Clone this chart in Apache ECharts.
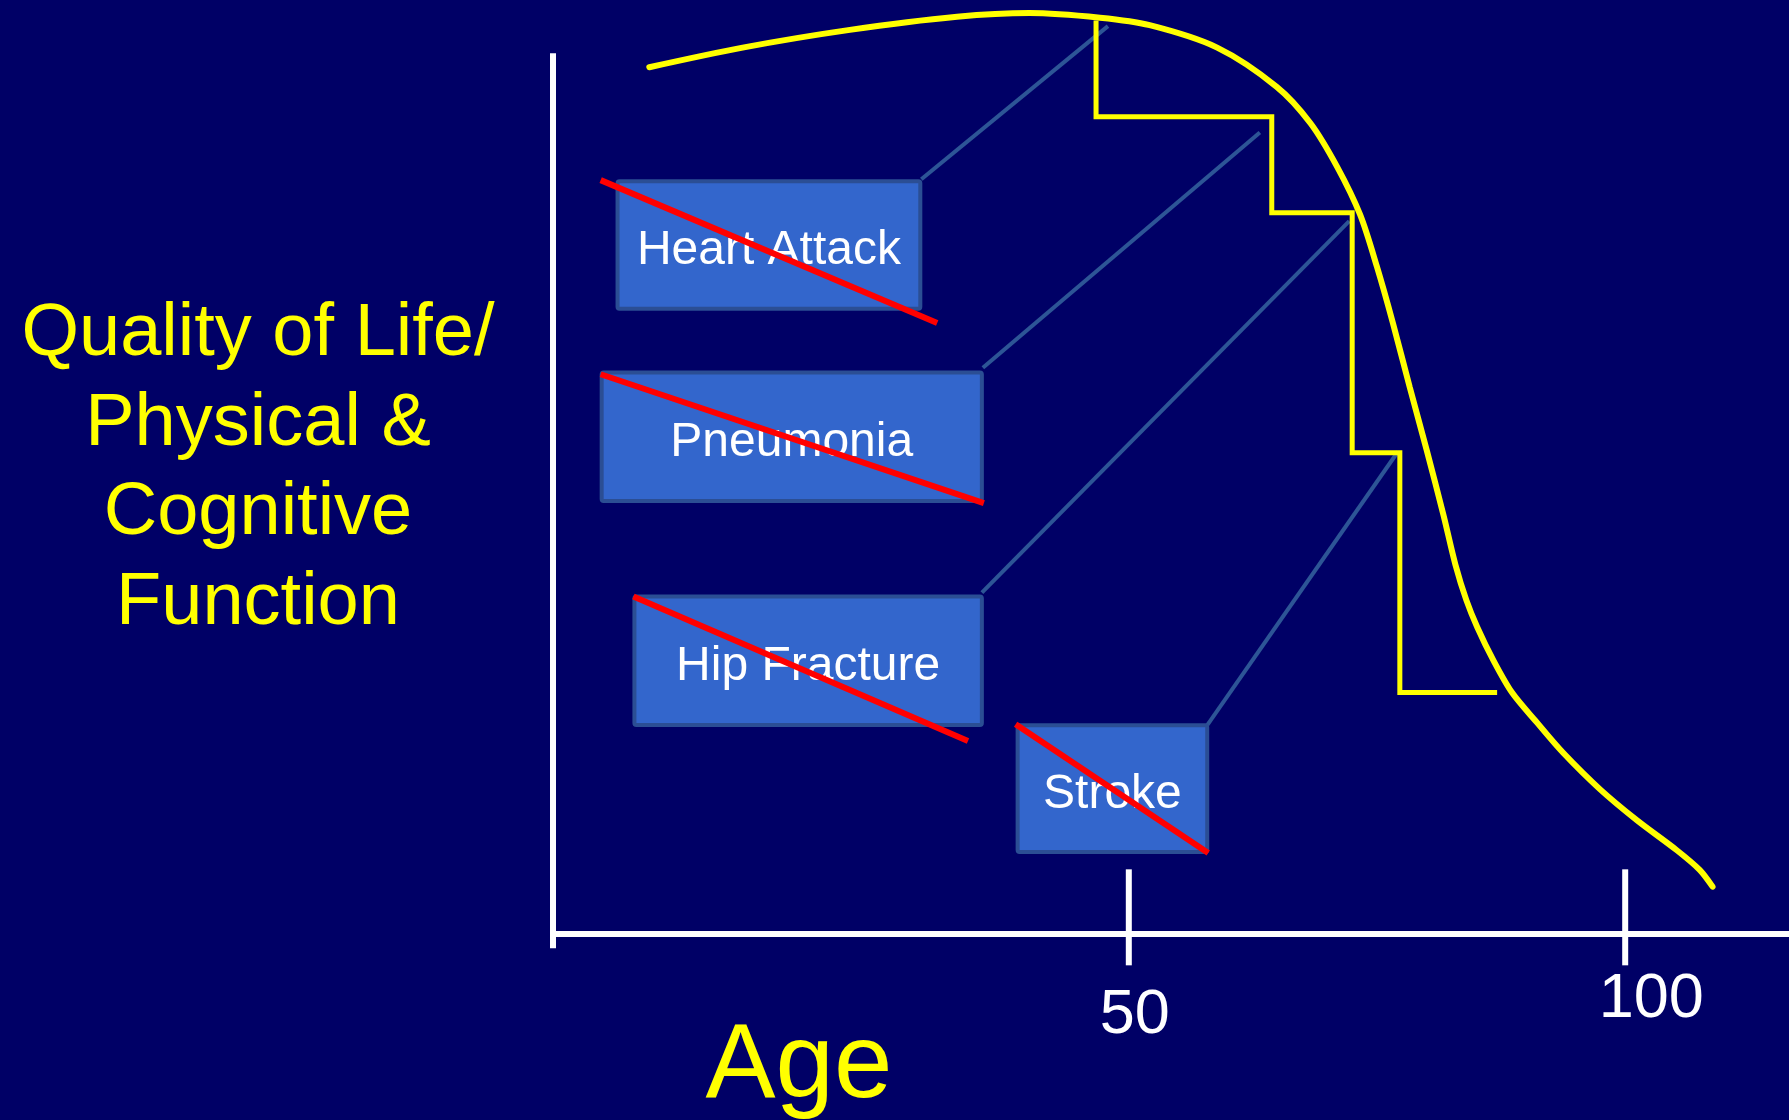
<!DOCTYPE html>
<html>
<head>
<meta charset="utf-8">
<script src="https://cdn.jsdelivr.net/npm/echarts@6/dist/echarts.min.js"></script>
<style>
html,body{margin:0;padding:0;background:#000066;}
#chart{width:1789px;height:1120px;}
</style>
</head>
<body>
<div id="chart"></div>
<script>
// ---------- data ----------
const xMin = -8, xMax = 116.5, yMin = -20, yMax = 100;

// smooth quality-of-life curve (age, function)
const curveX = [1.7, 11.1, 21.9, 32.7, 40.0, 47.1, 52.1, 58.9, 64.9, 68.3, 71.0, 73.3, 75.0, 76.6, 78.3, 80.0, 81.7, 82.9, 84.0, 85.1, 86.7, 88.6, 91.1, 93.7, 97.5, 101.2, 105.2, 107.5, 108.8];
const curveY = [92.8, 94.9, 96.8, 98.2, 98.6, 98.1, 97.3, 94.9, 90.7, 86.8, 82.1, 77.0, 71.4, 65.4, 58.5, 51.8, 44.8, 39.5, 35.7, 32.8, 29.3, 25.8, 22.6, 19.4, 15.4, 12.1, 8.9, 6.8, 5.0];

// stepped decline line (corner points)
const stepX = [46.7, 46.7, 64.4, 64.4, 72.5, 72.5, 77.3, 77.3, 87.1];
const stepY = [97.8, 87.5, 87.5, 77.2, 77.2, 51.5, 51.5, 25.8, 25.8];

// event boxes
const events = ['Heart Attack', 'Pneumonia', 'Hip Fracture', 'Stroke'];
const boxLeft   = [-1.7, -3.3, 0.0, 38.6];
const boxRight  = [29.2, 35.4, 35.4, 58.1];
const boxTop    = [80.8, 60.3, 36.3, 22.5];
const boxBottom = [66.7, 46.1, 22.1, 8.5];

// connectors from boxes to steps
const connFromX = [29.1, 35.3, 35.2, 57.5];
const connFromY = [80.8, 60.6, 36.5, 21.7];
const connToX   = [47.9, 63.2, 72.2, 77.1];
const connToY   = [97.2, 85.8, 76.3, 51.6];

// red strike-through lines
const strikeFromX = [-3.2, -3.2, 0.1, 38.6];
const strikeFromY = [80.7, 59.9, 36.1, 22.4];
const strikeToX   = [30.7, 35.4, 33.8, 58.0];
const strikeToY   = [65.4, 46.1, 20.6, 8.6];

// x axis ticks
const tickValues = [50, 100];
const tickLabels = ['50', '100'];

// vertical axis line extent
const yAxisLineX = [-8, -8];
const yAxisLineY = [-1.6, 94.3];

// ---------- layout / style ----------
const FONT = '"Liberation Sans", Arial, Helvetica, sans-serif';
const TICK_LABEL_NUDGE = [[6, 82], [26, 66]];
const BOX_FILL = '#3366cc', BOX_BORDER = '#2b4e94', CONN = '#2d5596';

const chart = echarts.init(document.getElementById('chart'), null, {renderer: 'canvas'});

const segData = (fx, fy, tx, ty) => fx.map((v, i) => [v, fy[i], tx[i], ty[i]]);

function segRender(color, width) {
  return function (params, api) {
    const a = api.coord([api.value(0), api.value(1)]);
    const b = api.coord([api.value(2), api.value(3)]);
    return {
      type: 'line',
      shape: {x1: a[0], y1: a[1], x2: b[0], y2: b[1]},
      style: {stroke: color, lineWidth: width, lineCap: 'butt'}
    };
  };
}

const option = {
  backgroundColor: '#000066',
  animation: false,
  grid: {left: 553, right: 0, top: 0, bottom: 0, containLabel: false},
  xAxis: {
    type: 'value', min: xMin, max: xMax,
    axisLine: {show: true, onZero: true, lineStyle: {color: '#ffffff', width: 6}},
    axisTick: {show: false}, axisLabel: {show: false}, splitLine: {show: false}
  },
  yAxis: {
    type: 'value', min: yMin, max: yMax,
    axisLine: {show: false}, axisTick: {show: false}, axisLabel: {show: false}, splitLine: {show: false}
  },
  graphic: [
    {
      type: 'text', x: 258, y: 469, silent: true,
      style: {
        text: 'Quality of Life/\nPhysical &\nCognitive\nFunction',
        fill: '#ffff00', font: '74px ' + FONT, lineHeight: 89.7,
        align: 'center', verticalAlign: 'middle', textAlign: 'center', textVerticalAlign: 'middle'
      }
    },
    {
      type: 'text', x: 799, y: 1068, silent: true,
      style: {
        text: 'Age', fill: '#ffff00', font: '105px ' + FONT,
        align: 'center', verticalAlign: 'middle', textAlign: 'center', textVerticalAlign: 'middle'
      }
    }
  ],
  series: [
    {
      name: 'y axis line', type: 'line', clip: false, symbol: 'none', silent: true,
      data: yAxisLineX.map((v, i) => [v, yAxisLineY[i]]),
      lineStyle: {color: '#ffffff', width: 6}, z: 2
    },
    {
      name: 'ticks', type: 'custom', silent: true, z: 3,
      data: tickValues.map((v, i) => [v, 0, i]),
      renderItem: function (params, api) {
        const p = api.coord([api.value(0), 0]);
        const i = api.value(2);
        const n = TICK_LABEL_NUDGE[i];
        return {
          type: 'group',
          children: [
            {type: 'line', shape: {x1: p[0], y1: p[1] - 64, x2: p[0], y2: p[1] + 32},
             style: {stroke: '#ffffff', lineWidth: 6}},
            {type: 'text', x: p[0] + n[0], y: p[1] + n[1],
             style: {text: tickLabels[i], fill: '#ffffff', font: '63px ' + FONT,
                     align: 'center', verticalAlign: 'middle', textAlign: 'center', textVerticalAlign: 'middle'}}
          ]
        };
      }
    },
    {
      name: 'connectors', type: 'custom', silent: true, z: 3,
      data: segData(connFromX, connFromY, connToX, connToY),
      renderItem: segRender(CONN, 4)
    },
    {
      name: 'steps', type: 'line', symbol: 'none', silent: true, z: 4,
      data: stepX.map((v, i) => [v, stepY[i]]),
      lineStyle: {color: '#ffff00', width: 5, join: 'miter'}
    },
    {
      name: 'quality of life', type: 'line', symbol: 'none', silent: true, z: 5,
      smooth: 0.3,
      data: curveX.map((v, i) => [v, curveY[i]]),
      lineStyle: {color: '#ffff00', width: 6, cap: 'round'}
    },
    {
      name: 'boxes', type: 'custom', silent: true, z: 6,
      data: events.map((e, i) => [boxLeft[i], boxTop[i], boxRight[i], boxBottom[i], i]),
      renderItem: function (params, api) {
        const a = api.coord([api.value(0), api.value(1)]);
        const b = api.coord([api.value(2), api.value(3)]);
        const i = api.value(4);
        return {
          type: 'group',
          children: [
            {type: 'rect', shape: {x: a[0] + 2, y: a[1] + 2, width: b[0] - a[0] - 4, height: b[1] - a[1] - 4, r: 2},
             style: {fill: BOX_FILL, stroke: BOX_BORDER, lineWidth: 4}},
            {type: 'text', x: (a[0] + b[0]) / 2, y: (a[1] + b[1]) / 2 + 6,
             style: {text: events[i], fill: '#ffffff', font: '48px ' + FONT,
                     align: 'center', verticalAlign: 'middle', textAlign: 'center', textVerticalAlign: 'middle'}}
          ]
        };
      }
    },
    {
      name: 'strikes', type: 'custom', silent: true, z: 7,
      data: segData(strikeFromX, strikeFromY, strikeToX, strikeToY),
      renderItem: segRender('#ff0000', 6)
    }
  ]
};
chart.setOption(option);
</script>
</body>
</html>
